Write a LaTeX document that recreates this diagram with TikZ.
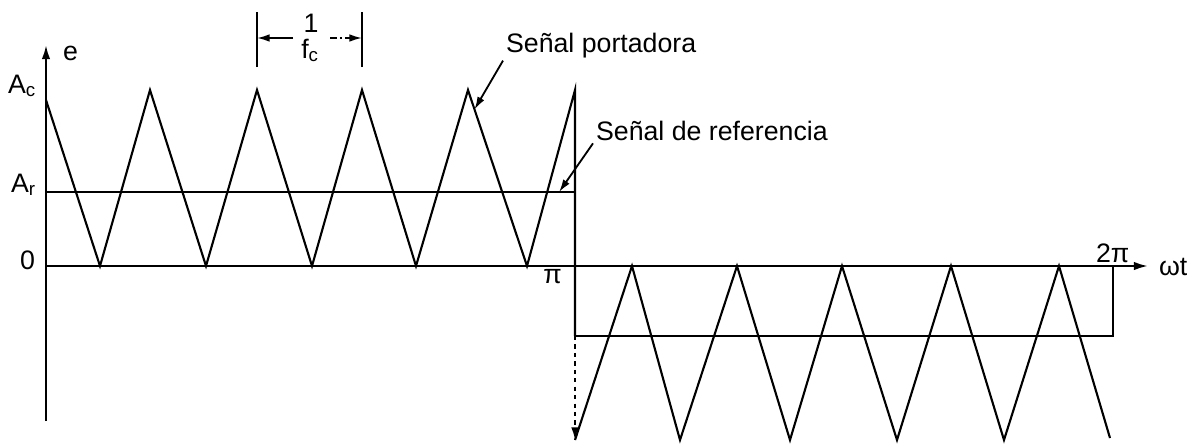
\documentclass[tikz,border=0pt]{standalone}
\usepackage{fontspec}
\setmainfont{Liberation Sans}
\usetikzlibrary{positioning}
\usetikzlibrary{arrows.meta}

\tikzset{
  sig/.style={line width=1.5pt,line join=miter},
  lbl/.style={font=\fontsize{19}{22}\selectfont,inner sep=2pt},
  ptr/.style={line width=1.3pt,-{Latex[length=9pt,width=5.5pt]}},
}

\begin{document}
\begin{tikzpicture}[x=0.025cm,y=0.025cm]
\useasboundingbox (-46,-177) rectangle (1153,266);

% axes
\coordinate (O) at (0,0);
\coordinate (ytop) at (0,221);
\coordinate (ybot) at (0,-155);
\coordinate (xend) at (1102,0);
\draw[sig,-{Latex[length=10pt,width=6pt]}] (ybot) -- (ytop);
\draw[sig,-{Latex[length=10pt,width=6pt]}] (O) -- (xend);
\node[lbl,anchor=base west] (e) at (14,206) {e};
\node[lbl,anchor=base east] (Ac) at (-7,173) {A\textsubscript{c}};
\node[lbl,anchor=base east] (Ar) at (-7,74) {A\textsubscript{r}};
\node[lbl,anchor=base east] (zero) at (-8,-3) {0};
\node[lbl,anchor=base east] (pi) at (519,-17) {π};
\node[lbl,anchor=base west] (twopi) at (1047,4) {2π};
\node[lbl,anchor=base west] (wt) at (1110,-9) {ωt};

% portadora, 0 .. pi
\draw[sig] (0,166) -- (54,0) -- (104,176) -- (160,0) -- (211,176) -- (266,0)
  -- (316,176) -- (370,0) -- (422,176) -- coordinate[pos=0.11] (hitp) (481,0)
  -- (529,176) -- (529,-70);
% portadora, pi .. 2pi
\draw[sig] (529,-174) -- (586,0) -- (634,-174) -- (691,0) -- (744,-174)
  -- (796,0) -- (851,-174) -- (905,0) -- (958,-174) -- (1013,0) -- (1064,-172);
\coordinate (pib) at (529,-70);
\coordinate (mAc) at (529,-174);
\draw[sig,dashed,-{Latex[length=9pt,width=5.5pt]}] (pib) -- (mAc);

% referencia
\draw[sig] (0,74) -- coordinate[pos=0.97] (refp) (529,74);
\draw[sig] (pib) -- (1067,-70) -- (1067,0);

% periodo 1/fc
\draw[sig] (211,199) -- (211,254);
\draw[sig] (316,199) -- (316,254);
\node[lbl,anchor=base] (one) at (265,234) {1};
\node[lbl,anchor=base] (fc) at (264,208) {f\textsubscript{c}};
\coordinate (fl) at (247,228);
\coordinate (fr) at (284,228);
\coordinate (tl) at (211,228);
\coordinate (tr) at (316,228);
\draw[ptr] (fl) -- (tl);
\draw[ptr,dash pattern=on 5pt off 2pt on 1.5pt off 2pt] (fr) -- (tr);

% rotulos
\node[lbl,anchor=base west] (port) at (457,214) {Señal portadora};
\node[lbl,anchor=base west] (ref) at (547,126) {Señal de referencia};
\draw[ptr] (port.south west) -- (hitp);
\draw[ptr] (ref.south west) -- (refp);

\end{tikzpicture}
\end{document}
